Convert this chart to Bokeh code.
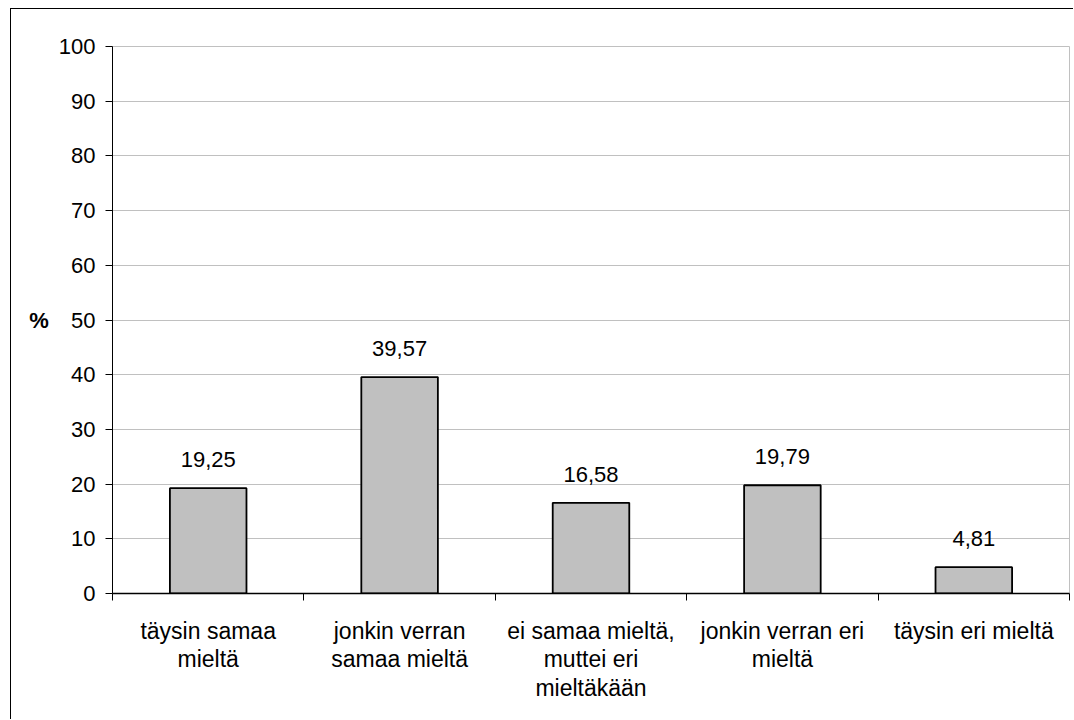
from bokeh.plotting import figure
from bokeh.models import ColumnDataSource, Range1d, FixedTicker, LabelSet
from bokeh.core.properties import value
from bokeh.embed import file_html
from bokeh.resources import INLINE
import numpy as np

categories = ["täysin samaa\nmieltä", "jonkin verran\nsamaa mieltä",
              "ei samaa mieltä,\nmuttei eri\nmieltäkään",
              "jonkin verran eri\nmieltä", "täysin eri mieltä"]
values = [19.25, 39.57, 16.58, 19.79, 4.81]
y_ticks = [0, 10, 20, 30, 40, 50, 60, 70, 80, 90, 100]

FONT = "Liberation Sans"

pos = np.arange(len(categories)) + 0.5
src = ColumnDataSource(dict(x=pos, top=values,
                            lab=[f"{v:.2f}".replace(".", ",") for v in values]))

p = figure(width=1063, height=711, output_backend="svg", toolbar_location=None,
           x_range=Range1d(0, len(categories)), y_range=Range1d(0, 100),
           min_border_left=101, min_border_right=5, min_border_top=37,
           min_border_bottom=127)
p.styles = {"margin-left": "10px", "margin-top": "8px",
            "border-left": "1px solid black", "border-top": "1px solid black"}

p.vbar(x="x", top="top", width=0.4, source=src, fill_color="#c0c0c0",
       line_color="black", line_width=1.8)

labels = LabelSet(x="x", y="top", text="lab", source=src, text_align="center",
                  text_baseline="alphabetic", y_offset=21, text_font=value(FONT),
                  text_font_size="22px", text_color="black")
p.add_layout(labels)

# grid / outline
p.xgrid.grid_line_color = None
p.ygrid.grid_line_color = "#c0c0c0"
p.ygrid.ticker = FixedTicker(ticks=y_ticks)
p.outline_line_color = "#c0c0c0"

# y axis
ya = p.yaxis[0]
ya.ticker = FixedTicker(ticks=y_ticks)
ya.major_tick_out = 7
ya.major_tick_in = 0
ya.minor_tick_line_color = None
ya.axis_line_color = "black"
ya.major_tick_line_color = "black"
ya.major_label_text_font = FONT
ya.major_label_text_font_size = "22px"
ya.major_label_text_color = "black"
ya.major_label_standoff = 10
ya.axis_label = "%"
ya.axis_label_orientation = "horizontal"
ya.axis_label_text_font = FONT
ya.axis_label_text_font_size = "22px"
ya.axis_label_text_font_style = "bold"
ya.axis_label_text_color = "black"
ya.axis_label_standoff = 7

# x axis
xa = p.xaxis[0]
xa.ticker = FixedTicker(ticks=list(pos), minor_ticks=list(range(len(categories) + 1)))
xa.major_label_overrides = {float(x): c for x, c in zip(pos, categories)}
xa.major_tick_line_color = None
xa.minor_tick_line_color = "black"
xa.minor_tick_out = 7
xa.minor_tick_in = 0
xa.axis_line_color = "black"
xa.axis_line_width = 1.3
xa.major_label_text_font = FONT
xa.major_label_text_font_size = "23px"
xa.major_label_text_color = "black"
xa.major_label_text_line_height = 1.1
xa.major_label_standoff = 17

open("out.html", "w").write(file_html(p, INLINE))
